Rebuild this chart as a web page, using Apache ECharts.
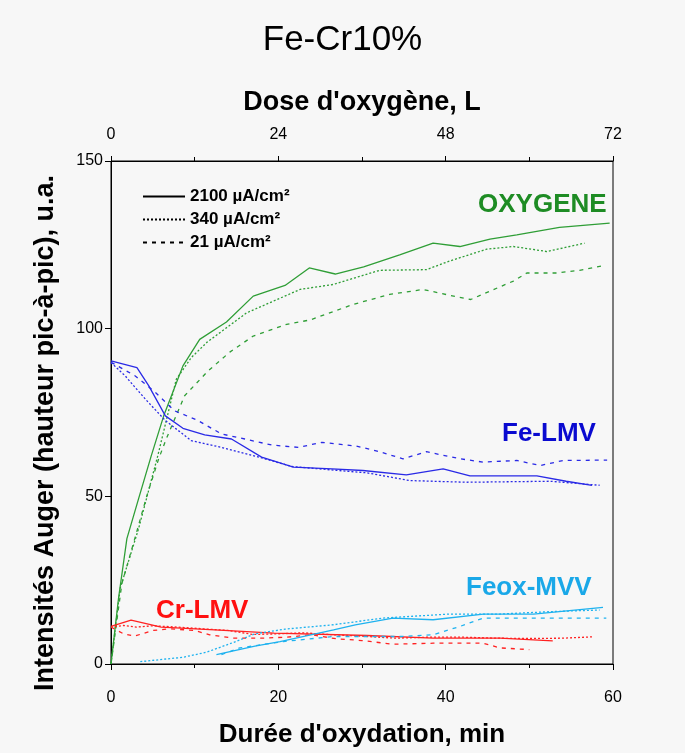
<!DOCTYPE html>
<html>
<head>
<meta charset="utf-8">
<title>Fe-Cr10%</title>
<script src="https://cdn.jsdelivr.net/npm/echarts@6/dist/echarts.min.js"></script>
<style>
  html, body { margin: 0; padding: 0; background: #f7f7f7; }
  #chart1 { width: 685px; height: 753px; }
</style>
</head>
<body>
<div id="chart1"></div>
<script>
// donnees (t en min, intensite en u.a.)
var oxyT1 = [0, 0.9, 1.9, 3.3, 4.8, 6.3, 8.6, 10.6, 13.8, 17.0, 20.8, 23.7, 26.8, 30.2, 34.5, 38.5, 41.7, 45.3, 48.5, 53.6, 59.6];
var oxyV1 = [0, 19.6, 37.4, 49.3, 62, 74, 88.9, 96.8, 102, 109.7, 112.9, 118.1, 116.3, 118.4, 122, 125.5, 124.5, 126.7, 128, 130.2, 131.5];
var oxyT2 = [0, 1.1, 3.3, 5.6, 7.8, 9.6, 11.5, 16.2, 22.6, 26.6, 32.1, 37.7, 40.5, 44.9, 48.1, 52.1, 56.6];
var oxyV2 = [0, 22.6, 40.4, 62.2, 84.9, 91.4, 96, 104.7, 111.7, 113.2, 117.4, 117.6, 120.2, 123.7, 124.5, 123, 125.5];
var oxyT3 = [0, 1.3, 2.8, 4.3, 5.7, 6.6, 8.8, 11.6, 14.2, 17, 21, 23.8, 28.9, 33.3, 37.3, 41.3, 43, 45.3, 48.1, 49.7, 53.2, 56, 58.8];
var oxyV3 = [0, 24, 37, 50.3, 61.2, 67.1, 80, 87.4, 93, 97.8, 101.3, 102.6, 107.2, 110.2, 111.7, 109.5, 108.7, 111.2, 114.2, 116.6, 116.6, 117.4, 118.8];

var feT1 = [0, 3.1, 4.5, 6.5, 8.6, 11.2, 14.4, 18, 21.8, 26.4, 30.1, 35.3, 39.7, 42.9, 50.9, 54.4, 57.5];
var feV1 = [90.4, 88.4, 83, 74, 70.3, 68.3, 67.1, 61.7, 58.7, 58.2, 57.7, 56.4, 58.2, 56.1, 56.1, 54.5, 53.3];
var feT2 = [0, 1.7, 4.1, 6.5, 9.6, 13.2, 18.4, 21.6, 27.2, 30.6, 33.5, 35.7, 42.5, 52.5, 58.4];
var feV2 = [89.9, 85.9, 79, 72.6, 66.6, 64.6, 61.2, 58.9, 57.7, 57, 55.7, 54.7, 54.2, 54.5, 53.3];
var feT3 = [0, 2.9, 5.3, 7.6, 10.4, 13.2, 16, 19.2, 22.4, 25.2, 29.3, 31.8, 34.9, 37.7, 41.7, 44.5, 48.5, 51.3, 54.1, 59.3];
var feV3 = [90, 85.9, 81, 75.5, 72.6, 68.6, 67.1, 65.3, 64.6, 66.1, 65, 63.5, 61.2, 63.3, 61.2, 60.2, 60.7, 59.2, 60.7, 60.8];

var crT1 = [0, 2.4, 6, 12.4, 19.5, 30.6, 38.5, 46.5, 52.8];
var crV1 = [11.2, 13.1, 11, 10.2, 9.2, 8.5, 7.7, 7.7, 6.9];
var crT2 = [0, 1.5, 3, 5, 8, 11, 14, 17, 20, 23, 26, 30, 34, 38, 42, 46, 50, 54, 57.6];
var crV2 = [11, 11.5, 11, 11.4, 11, 10.5, 10, 8.8, 9, 9.3, 8.8, 8.3, 7.7, 8, 8, 7.7, 7.6, 7.7, 8.1];
var crT3 = [0, 1.5, 2.8, 5, 7, 10, 11.8, 14.6, 18, 21, 24, 27, 30, 33.7, 38.5, 44.5, 46.5, 50];
var crV3 = [11, 9, 8.3, 10, 10.5, 10, 8.7, 7.7, 7.7, 8, 8.7, 7.5, 7, 5.9, 6.2, 6.2, 4.8, 4.3];

var feoxT1 = [12.6, 17.2, 20.2, 26.6, 29.2, 33.7, 38.5, 44.5, 50.5, 58.8];
var feoxV1 = [2.8, 5.3, 6.7, 10.2, 11.7, 13.7, 13.2, 14.9, 14.9, 16.9];
var feoxT2 = [3.5, 8.6, 11.4, 14.6, 17.2, 20.8, 26.6, 32.5, 40.5, 46.5, 52.4, 58.4];
var feoxV2 = [0.7, 2, 3.5, 6.4, 9, 10.4, 11.7, 13.7, 14.9, 14.9, 15.6, 16.1];
var feoxT3 = [13.2, 15.4, 20.6, 26.6, 34.5, 38.5, 41.7, 44.5, 50.5, 59.2];
var feoxV3 = [2.8, 4.8, 6.7, 8.2, 8.2, 8.7, 11.2, 13.7, 13.7, 13.7];

var legendNames = ['2100 \u00b5A/cm\u00b2', '340 \u00b5A/cm\u00b2', '21 \u00b5A/cm\u00b2'];

var FONT = 'Liberation Sans, Arial, Helvetica, sans-serif';
var styles = ['solid', [2, 2], [4, 5]];

function pairs(t, v) {
	var d = [];
	for (var i = 0; i < t.length; i++) {
		d.push([t[i], v[i]]);
	}
	return d;
}

function courbe(t, v, color, k) {
	return {
		type: 'line',
		data: pairs(t, v),
		symbol: 'none',
		silent: true,
		lineStyle: { color: color, width: 1.3, type: styles[k] },
		z: 3
	};
}

var myChart = echarts.init(document.getElementById('chart1'));

var series = [];
// entrees de legende (noires, sans donnees)
for (var k = 0; k < 3; k++) {
	series.push({
		name: legendNames[k],
		type: 'line',
		data: [],
		symbol: 'none',
		color: '#000',
		lineStyle: { color: '#000', width: 1.3, type: styles[k] }
	});
}
var vert = '#2f9e36', bleu = '#2a2ae6', rouge = '#ff2222', cyan = '#1eb2ef';
series.push(courbe(oxyT1, oxyV1, vert, 0));
series.push(courbe(oxyT2, oxyV2, vert, 1));
series.push(courbe(oxyT3, oxyV3, vert, 2));
series.push(courbe(feT1, feV1, bleu, 0));
series.push(courbe(feT2, feV2, bleu, 1));
series.push(courbe(feT3, feV3, bleu, 2));
series.push(courbe(crT1, crV1, rouge, 0));
series.push(courbe(crT2, crV2, rouge, 1));
series.push(courbe(crT3, crV3, rouge, 2));
series.push(courbe(feoxT1, feoxV1, cyan, 0));
series.push(courbe(feoxT2, feoxV2, cyan, 1));
series.push(courbe(feoxT3, feoxV3, cyan, 2));

function etiquette(txt, x, y, color) {
	return {
		type: 'text',
		left: x,
		top: y,
		style: { text: txt, fill: color, font: 'bold 26px ' + FONT }
	};
}

var option = {
	backgroundColor: '#f7f7f7',
	animation: false,
	title: {
		text: 'Fe-Cr10%',
		left: 'center',
		top: 18,
		textStyle: { fontFamily: FONT, fontSize: 35, fontWeight: 'normal', color: '#000' }
	},
	legend: {
		orient: 'vertical',
		left: 137,
		top: 183,
		itemWidth: 42,
		itemHeight: 14,
		itemGap: 6,
		selectedMode: false,
		data: legendNames,
		itemStyle: { opacity: 0 },
		textStyle: { fontFamily: FONT, fontSize: 17, fontWeight: 'bold', color: '#000' }
	},
	grid: { left: 111, right: 72, top: 161, bottom: 87, show: true, borderColor: '#000', borderWidth: 1 },
	xAxis: [{
		type: 'value',
		position: 'bottom',
		min: 0, max: 60, interval: 20,
		name: "Durée d'oxydation, min",
		nameLocation: 'middle',
		nameGap: 58,
		nameTextStyle: { fontFamily: FONT, fontSize: 26, fontWeight: 'bold', color: '#000' },
		axisLine: { lineStyle: { color: '#000', width: 1 } },
		axisTick: { length: 6, lineStyle: { color: '#000' } },
		minorTick: { show: true, splitNumber: 2, length: 4, lineStyle: { color: '#000' } },
		axisLabel: { fontFamily: FONT, fontSize: 16, color: '#000', margin: 26 },
		splitLine: { show: false }
	}, {
		type: 'value',
		position: 'top',
		min: 0, max: 72, interval: 24,
		name: "Dose d'oxygène, L",
		nameLocation: 'middle',
		nameGap: 45,
		nameTextStyle: { fontFamily: FONT, fontSize: 27, fontWeight: 'bold', color: '#000' },
		axisLine: { lineStyle: { color: '#000', width: 1 } },
		axisTick: { length: 5, lineStyle: { color: '#000' } },
		minorTick: { show: true, splitNumber: 2, length: 4, lineStyle: { color: '#000' } },
		axisLabel: { fontFamily: FONT, fontSize: 16, color: '#000', margin: 18 },
		splitLine: { show: false }
	}],
	yAxis: {
		type: 'value',
		min: 0, max: 150, interval: 50,
		axisLine: { show: true, lineStyle: { color: '#000', width: 1 } },
		axisTick: { show: true, length: 6, lineStyle: { color: '#000' } },
		axisLabel: { fontFamily: FONT, fontSize: 16, color: '#000', margin: 8 },
		splitLine: { show: false }
	},
	graphic: [
		etiquette('OXYGENE', 478, 192, '#1e8c24'),
		etiquette('Fe-LMV', 502, 421, '#0a0ad0'),
		etiquette('Feox-MVV', 466, 575, '#1aa8e8'),
		etiquette('Cr-LMV', 156, 598, '#ff1010'),
		{
			type: 'text',
			x: 46,
			y: 433,
			rotation: Math.PI / 2,
			style: {
				text: 'Intensités Auger (hauteur pic-à-pic), u.a.',
				fill: '#000',
				font: 'bold 27px ' + FONT,
				align: 'center',
				verticalAlign: 'middle'
			}
		}
	],
	series: series
};
myChart.setOption(option);
</script>
</body>
</html>
